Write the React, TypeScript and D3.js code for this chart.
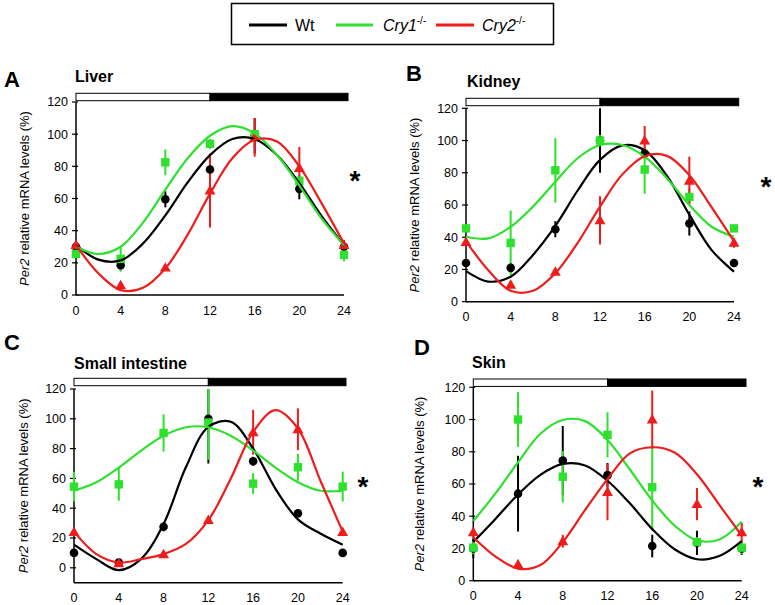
import React from "react";
import * as d3 from "d3";

// ---------- data ----------
const sampleHours = [0, 4, 8, 12, 16, 20, 24];
const fitHours = [0, 2, 4, 6, 8, 10, 12, 14, 16, 18, 20, 22, 24];
const xTicks = [0, 4, 8, 12, 16, 20, 24];
const yTicks = [0, 20, 40, 60, 80, 100, 120];
const seriesNames = ["Wt", "Cry1", "Cry2"];

// Liver
const liverWt = [30, 18.5, 59.5, 78, 99, 66, 30];
const liverWtErr = [2, 3, 5, 0, 11, 6.5, 4];
const liverWtFit = [31, 22, 21.5, 32, 49.5, 70, 87, 97, 97, 87, 69.5, 49, 31];
const liverCry1 = [25.5, 22.5, 82.5, 94, 100, 71, 25];
const liverCry1Err = [2, 8, 8, 3, 2, 4, 4];
const liverCry1Fit = [30, 25.5, 30, 45, 65.5, 85, 99, 105, 100.5, 87, 68, 47.5, 31];
const liverCry2 = [31, 6, 17, 65, 98, 79, 31];
const liverCry2Err = [3, 1, 1, 23, 12, 13, 3];
const liverCry2Fit = [31, 13.5, 3, 4.5, 16.5, 37.5, 63, 85, 96.5, 95.5, 80, 57, 32];

// Kidney
const kidneyWt = [24, 21, 45, 100, 92, 48.5, 24];
const kidneyWtErr = [2, 3, 5, 20, 3, 7.5, 1];
const kidneyWtFit = [19, 12.5, 15.5, 29, 47, 69, 88, 97, 94, 78, 54, 32, 18.6];
const kidneyCry1 = [45.5, 36.5, 81.5, 100, 82, 65, 45.5];
const kidneyCry1Err = [1, 20, 20, 3.5, 15, 5, 1];
const kidneyCry1Fit = [40.3, 39.3, 46.5, 59, 74.5, 89, 97.2, 97.2, 90, 76.5, 60, 46.5, 40.3];
const kidneyCry2 = [37, 10.5, 18.5, 50.5, 100, 75, 36.5];
const kidneyCry2Err = [2, 2, 2, 15, 9, 15, 3];
const kidneyCry2Fit = [37.5, 19.5, 6.8, 6.8, 17.7, 36.5, 59, 79, 90.3, 90.5, 78.5, 58.5, 37.5];

// Small intestine
const intestineWt = [10, 3.5, 27.5, 100, 71.5, 36.5, 10];
const intestineWtErr = [1, 1, 3, 30, 3, 1, 1];
const intestineWtFit = [15.5, 5.8, -1.6, 6, 29.4, 67.6, 94.6, 98, 80, 53, 32.5, 23, 15.5];
const intestineCry1 = [54.5, 56, 90.5, 97.5, 56.5, 67.5, 54.5];
const intestineCry1Err = [10, 11, 12.5, 25, 7, 9, 10];
const intestineCry1Fit = [51.7, 57.4, 67.3, 78.7, 88.6, 94.3, 94.3, 88.6, 78.7, 67.3, 57.4, 51.7, 51.7];
const intestineCry2 = [24, 3, 9, 32, 91, 93, 24];
const intestineCry2Err = [2, 1, 1, 1, 15, 14, 2];
const intestineCry2Fit = [24.3, 9.2, 3.6, 5.8, 9.2, 16, 32, 59.8, 91.2, 105.8, 93.5, 58.6, 24.3];

// Skin
const skinWt = [20, 54, 74.5, 65.5, 21.5, 23.5, 20];
const skinWtErr = [6, 23.5, 21.5, 7.5, 7, 7.5, 4];
const skinWtFit = [24, 38.5, 53.5, 65.7, 72.5, 71.5, 62, 48, 32, 19.5, 13.3, 15.3, 24.5];
const skinCry1 = [20.5, 100, 64.5, 90.5, 58, 24, 20.5];
const skinCry1Err = [4, 17, 16, 14, 26, 3, 4];
const skinCry1Fit = [37, 54.3, 73.5, 91.2, 99.7, 99, 87.3, 69, 49.8, 34.2, 25, 25.6, 36.6];
const skinCry2 = [30, 10, 24.5, 55, 100, 47.5, 30];
const skinCry2Err = [3, 3, 4, 17.5, 18, 10, 6];
const skinCry2Fit = [27, 14.9, 7.5, 9.7, 24, 43.9, 63, 79, 82.8, 79.5, 66, 47, 28];

// ---------- styling ----------
const COLORS = ["#000000", "#2fe02f", "#ee1c1c"];
const FONT = "'Liberation Sans', Arial, Helvetica, sans-serif";

type Series = { vals: number[]; err: number[]; fit: number[] };
type PanelCfg = {
  letter: string;
  title: string;
  x0: number;
  x1: number;
  yTop: number;
  yBottom: number;
  ymin: number;
  barTop: number;
  barRight: number;
  letterX: number;
  letterY: number;
  titleX: number;
  titleY: number;
  ylabX: number;
  starX: number;
  starY: number;
  series: Series[];
};

const panels: PanelCfg[] = [
  {
    letter: "A", title: "Liver",
    x0: 76, x1: 344, yTop: 102, yBottom: 295, ymin: 0,
    barTop: 93.3, barRight: 348,
    letterX: 4, letterY: 87, titleX: 75, titleY: 82, ylabX: 29,
    starX: 355, starY: 176,
    series: [
      { vals: liverWt, err: liverWtErr, fit: liverWtFit },
      { vals: liverCry1, err: liverCry1Err, fit: liverCry1Fit },
      { vals: liverCry2, err: liverCry2Err, fit: liverCry2Fit },
    ],
  },
  {
    letter: "B", title: "Kidney",
    x0: 466, x1: 734, yTop: 108.3, yBottom: 301.7, ymin: 0,
    barTop: 98.3, barRight: 738.7,
    letterX: 406, letterY: 81, titleX: 467, titleY: 86.5, ylabX: 419,
    starX: 766, starY: 182,
    series: [
      { vals: kidneyWt, err: kidneyWtErr, fit: kidneyWtFit },
      { vals: kidneyCry1, err: kidneyCry1Err, fit: kidneyCry1Fit },
      { vals: kidneyCry2, err: kidneyCry2Err, fit: kidneyCry2Fit },
    ],
  },
  {
    letter: "C", title: "Small intestine",
    x0: 74, x1: 342.7, yTop: 389, yBottom: 582.7, ymin: -10,
    barTop: 378.3, barRight: 346,
    letterX: 4, letterY: 350, titleX: 74, titleY: 369, ylabX: 28,
    starX: 363, starY: 482,
    series: [
      { vals: intestineWt, err: intestineWtErr, fit: intestineWtFit },
      { vals: intestineCry1, err: intestineCry1Err, fit: intestineCry1Fit },
      { vals: intestineCry2, err: intestineCry2Err, fit: intestineCry2Fit },
    ],
  },
  {
    letter: "D", title: "Skin",
    x0: 473.3, x1: 741.7, yTop: 387.3, yBottom: 580.7, ymin: 0,
    barTop: 379, barRight: 746,
    letterX: 414, letterY: 355, titleX: 472, titleY: 368, ylabX: 424,
    starX: 758, starY: 482,
    series: [
      { vals: skinWt, err: skinWtErr, fit: skinWtFit },
      { vals: skinCry1, err: skinCry1Err, fit: skinCry1Fit },
      { vals: skinCry2, err: skinCry2Err, fit: skinCry2Fit },
    ],
  },
];

function Marker({ kind, cx, cy }: { kind: number; cx: number; cy: number }) {
  if (kind === 0) return <circle cx={cx} cy={cy} r={4.3} fill={COLORS[0]} />;
  if (kind === 1)
    return <rect x={cx - 4.2} y={cy - 4.2} width={8.4} height={8.4} fill={COLORS[1]} />;
  const tri = d3.symbol().type(d3.symbolTriangle).size(52)();
  return <path d={tri || ""} transform={`translate(${cx},${cy + 0.8})`} fill={COLORS[2]} />;
}

function Panel({ p }: { p: PanelCfg }) {
  const x = d3.scaleLinear().domain([0, 24]).range([p.x0, p.x1]);
  const y = d3.scaleLinear().domain([p.ymin, 120]).range([p.yBottom, p.yTop]);
  const line = d3
    .line<number>()
    .x((_, i) => x(fitHours[i]))
    .y((d) => y(d))
    .curve(d3.curveCatmullRom.alpha(0.5));
  const barH = 7.4;
  const yMid = (p.yTop + p.yBottom) / 2;
  return (
    <g>
      <text x={p.letterX} y={p.letterY} fontSize={22} fontWeight="bold" fontFamily={FONT}>
        {p.letter}
      </text>
      <text x={p.titleX} y={p.titleY} fontSize={16} fontWeight="bold" fontFamily={FONT}>
        {p.title}
      </text>
      {/* light/dark bar */}
      <rect x={x(0)} y={p.barTop} width={x(12) - x(0)} height={barH} fill="#fff" stroke="#000" strokeWidth={1} />
      <rect x={x(12)} y={p.barTop} width={p.barRight - x(12)} height={barH} fill="#000" stroke="#000" strokeWidth={1} />
      {/* axes */}
      <line x1={p.x0} x2={p.x0} y1={y(120)} y2={y(p.ymin)} stroke="#000" strokeWidth={1.5} />
      <line x1={p.x0} x2={p.x1} y1={y(p.ymin)} y2={y(p.ymin)} stroke="#000" strokeWidth={1.5} />
      {yTicks.map((t) => (
        <g key={t}>
          <line x1={p.x0 - 4} x2={p.x0 + 2} y1={y(t)} y2={y(t)} stroke="#000" strokeWidth={1.2} />
          <text x={p.x0 - 8} y={y(t) + 4.4} fontSize={12.5} textAnchor="end" fontFamily={FONT}>
            {t}
          </text>
        </g>
      ))}
      {xTicks.map((t) => (
        <text key={t} x={x(t)} y={y(p.ymin) + 19.5} fontSize={12.5} textAnchor="middle" fontFamily={FONT}>
          {t}
        </text>
      ))}
      <text
        transform={`translate(${p.ylabX},${yMid}) rotate(-90)`}
        fontSize={13}
        textAnchor="middle"
        fontFamily={FONT}
      >
        <tspan fontStyle="italic">Per2</tspan>
        <tspan> relative mRNA levels (%)</tspan>
      </text>
      {/* error bars */}
      {p.series.map((s, si) =>
        s.vals.map((v, i) => {
          const lo = Math.max(p.ymin, v - s.err[i]);
          const hi = Math.min(120, v + s.err[i]);
          return (
            <line
              key={`e${si}-${i}`}
              x1={x(sampleHours[i])}
              x2={x(sampleHours[i])}
              y1={y(lo)}
              y2={y(hi)}
              stroke={COLORS[si]}
              strokeWidth={2}
            />
          );
        })
      )}
      {/* markers */}
      {p.series.map((s, si) =>
        s.vals.map((v, i) => (
          <Marker key={`m${si}-${i}`} kind={si} cx={x(sampleHours[i])} cy={y(v)} />
        ))
      )}
      {/* fitted curves */}
      {p.series.map((s, si) => (
        <path key={`c${si}`} d={line(s.fit) || ""} fill="none" stroke={COLORS[si]} strokeWidth={2.2} />
      ))}
      <text x={p.starX} y={p.starY + 14} fontSize={28} fontWeight="bold" textAnchor="middle" fontFamily={FONT}>
        *
      </text>
    </g>
  );
}

function Legend() {
  const items = [
    { x1: 249, x2: 287, tx: 295 },
    { x1: 336, x2: 373, tx: 383 },
    { x1: 436, x2: 474, tx: 482 },
  ];
  return (
    <g>
      <rect x={231.5} y={3.5} width={322} height={41} fill="#fff" stroke="#000" strokeWidth={1.5} />
      {items.map((it, i) => (
        <g key={seriesNames[i]}>
          <line x1={it.x1} x2={it.x2} y1={25} y2={25} stroke={COLORS[i]} strokeWidth={3} />
          <text x={it.tx} y={31} fontSize={16} fontFamily={FONT}>
            {i === 0 ? (
              seriesNames[i]
            ) : (
              <>
                <tspan fontStyle="italic">{seriesNames[i]}</tspan>
                <tspan fontSize={10} dy={-7}>-/-</tspan>
              </>
            )}
          </text>
        </g>
      ))}
    </g>
  );
}

export default function App() {
  return (
    <svg
      width={775}
      height={605}
      viewBox="0 0 775 605"
      style={{ position: "absolute", left: 0, top: 0, background: "#fff" }}
    >
      <rect x={0} y={0} width={775} height={605} fill="#fff" />
      <Legend />
      {panels.map((p) => (
        <Panel key={p.letter} p={p} />
      ))}
    </svg>
  );
}
